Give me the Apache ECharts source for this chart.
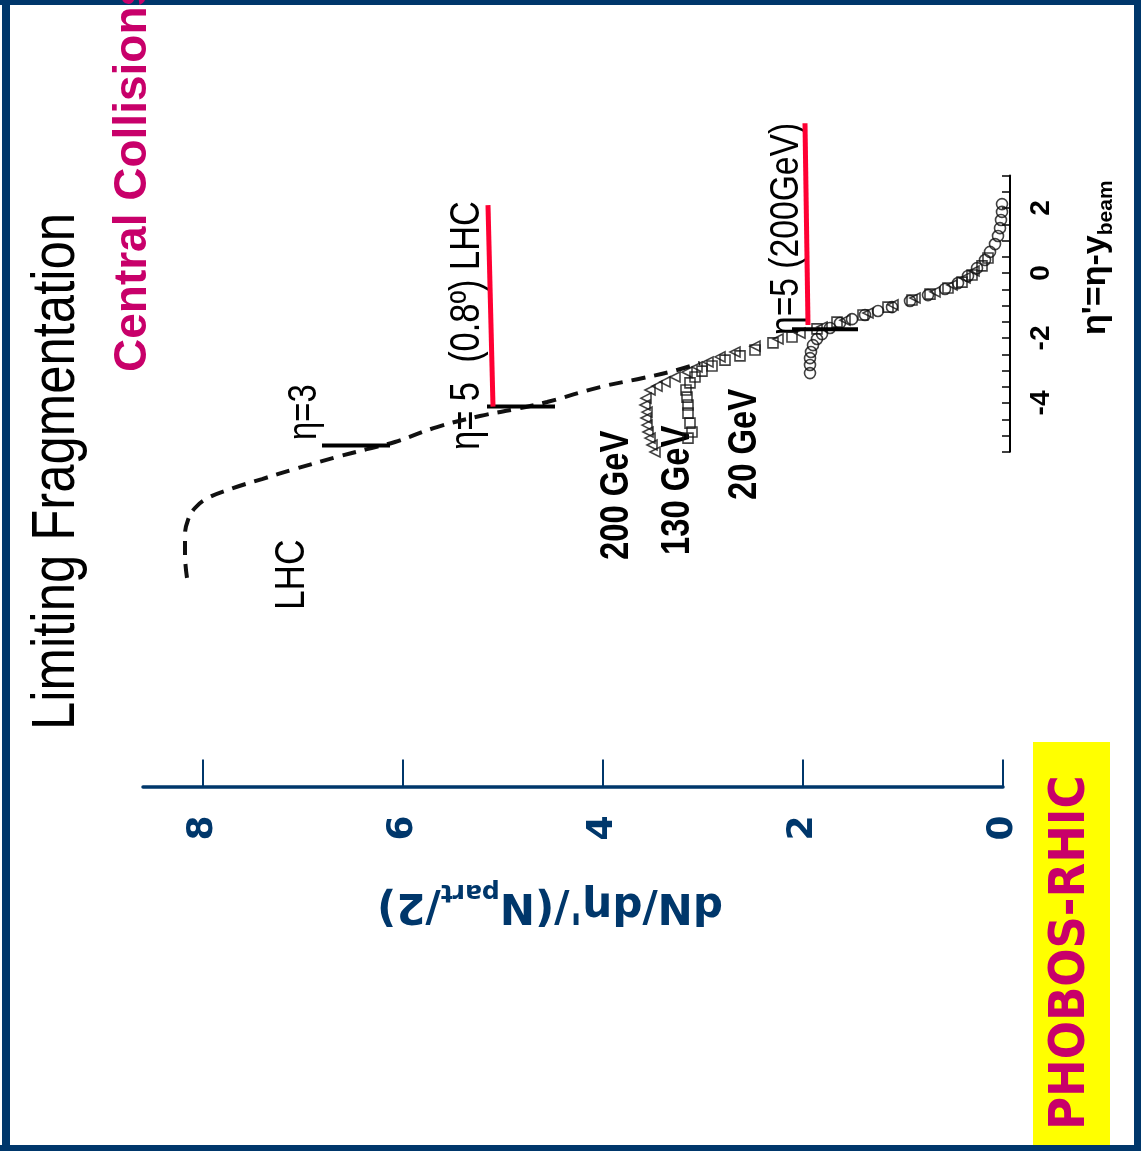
<!DOCTYPE html>
<html>
<head>
<meta charset="utf-8">
<title>Limiting Fragmentation</title>
<script src="https://cdn.jsdelivr.net/npm/echarts@6/dist/echarts.min.js"></script>
<style>
html, body { margin: 0; padding: 0; background: #fff; }
#chart { width: 1141px; height: 1151px; }
</style>
</head>
<body>
<div id="chart"></div>
<script>
// every point is [dN/deta'/(Npart/2), eta']
var lhcCurve = [
  [8.16, -9.38], [8.18, -8.68], [8.18, -8.06], [8.15, -7.60], [8.08, -7.23],
  [7.95, -6.92], [7.70, -6.62], [7.41, -6.34], [7.08, -6.03], [6.66, -5.66],
  [6.36, -5.42], [6.08, -5.20], [5.66, -4.74], [5.23, -4.40], [4.86, -4.18],
  [4.56, -3.97], [4.03, -3.51], [3.60, -3.23], [3.30, -3.02], [3.03, -2.77]
];
var phobos200 = [
  [3.48, -5.51], [3.51, -5.29], [3.53, -5.08], [3.55, -4.89], [3.56, -4.68],
  [3.57, -4.46], [3.56, -4.28], [3.58, -4.06], [3.57, -3.85], [3.53, -3.60],
  [3.46, -3.48], [3.38, -3.35], [3.28, -3.20], [3.16, -3.05], [3.06, -2.89],
  [2.95, -2.74], [2.83, -2.58], [2.68, -2.43], [2.48, -2.25], [2.25, -2.03],
  [2.03, -1.85], [1.81, -1.66], [1.58, -1.45], [1.35, -1.23], [1.10, -0.98],
  [0.88, -0.77], [0.68, -0.58], [0.51, -0.37], [0.38, -0.15], [0.29, 0.06]
];
var phobos130 = [
  [3.15, -5.08], [3.11, -4.89], [3.13, -4.62], [3.15, -4.31], [3.15, -4.06],
  [3.16, -3.82], [3.17, -3.60], [3.13, -3.38], [3.08, -3.20], [3.01, -3.02],
  [2.91, -2.86], [2.78, -2.68], [2.63, -2.55], [2.48, -2.37], [2.30, -2.15],
  [2.11, -1.97], [1.86, -1.72], [1.66, -1.51], [1.40, -1.29], [1.15, -1.05],
  [0.91, -0.83], [0.73, -0.65], [0.55, -0.46], [0.41, -0.28], [0.31, -0.06],
  [0.21, 0.22], [0.15, 0.46]
];
var phobos20 = [
  [1.93, -3.08], [1.93, -2.83], [1.93, -2.62], [1.92, -2.43], [1.90, -2.22],
  [1.86, -2.03], [1.81, -1.88], [1.73, -1.69], [1.63, -1.54], [1.51, -1.42],
  [1.38, -1.29], [1.25, -1.17], [1.11, -1.05], [0.93, -0.86], [0.75, -0.68],
  [0.58, -0.49], [0.45, -0.31], [0.35, -0.09], [0.26, 0.15], [0.18, 0.40],
  [0.13, 0.65], [0.08, 0.89], [0.05, 1.14], [0.03, 1.38], [0.02, 1.63],
  [0.01, 1.88], [0.01, 2.12]
];
// eta cut markers
var cutLhcEta3 = [[6.81, -5.31], [6.13, -5.31]];
var cutLhcEta5 = [[5.16, -4.11], [4.48, -4.11]];
var redLhcEta5 = [[5.15, 2.09], [5.10, -4.11]];
var cut200Eta5 = [[2.11, -1.73], [1.45, -1.73]];
var red200Eta5 = [[1.98, 4.61], [1.95, -1.60]];

var dnTicks = [0, 2, 4, 6, 8];
var etaLabels = [-4, -2, 0, 2];

var navy = '#00376b';
var magenta = '#c8006a';
var arial = "'Liberation Sans', Arial, sans-serif";
var marker = { color: 'rgba(255,255,255,0)', borderColor: '#111', borderWidth: 1.6 };

// text reading bottom-to-top; squeeze < 1 narrows it like Arial Narrow
function vText(x, y, text, font, fill, squeeze, rich) {
  return {
    type: 'text', x: x, y: y, rotation: Math.PI / 2, scaleX: squeeze || 1, silent: true,
    style: {
      text: text, font: font, fill: fill, rich: rich,
      align: 'left', textAlign: 'left', verticalAlign: 'middle', textVerticalAlign: 'middle'
    }
  };
}
function cutLine(data, color, width) {
  return {
    type: 'line', xAxisIndex: 0, yAxisIndex: 0, data: data, symbol: 'none', silent: true,
    lineStyle: { color: color, width: width }
  };
}

var chart = echarts.init(document.getElementById('chart'));
chart.setOption({
  animation: false,
  backgroundColor: '#fff',
  grid: [
    { left: 143, right: 138, top: 110.5, height: 676 },
    { left: 143, right: 131, top: 175.5, height: 276.25 }
  ],
  xAxis: [
    {
      gridIndex: 0, type: 'value', min: 0, max: 8.6, inverse: true,
      axisLine: { onZero: false, lineStyle: { color: navy, width: 3.5 } },
      axisTick: { inside: true, length: 27, customValues: dnTicks, lineStyle: { color: navy, width: 2 } },
      axisLabel: {
        customValues: dnTicks, rotate: 90, margin: 29, color: navy,
        fontFamily: 'DejaVu Sans', fontWeight: 'bold', fontSize: 36
      },
      splitLine: { show: false }
    },
    { gridIndex: 1, type: 'value', min: 0, max: 1, show: false }
  ],
  yAxis: [
    { gridIndex: 0, type: 'value', min: -15.8, max: 5, show: false },
    {
      gridIndex: 1, type: 'value', position: 'right', min: -5.5, max: 3, interval: 0.5,
      axisLine: { onZero: false, lineStyle: { color: '#000', width: 2 } },
      axisTick: { inside: true, length: 8, lineStyle: { color: '#000', width: 1.5 } },
      axisLabel: {
        customValues: etaLabels, rotate: 90, margin: 17, color: '#000',
        fontFamily: 'Liberation Sans', fontWeight: 'bold', fontSize: 28
      },
      splitLine: { show: false }
    }
  ],
  series: [
    {
      type: 'line', xAxisIndex: 0, yAxisIndex: 0, data: lhcCurve, smooth: 0.4,
      symbol: 'none', silent: true,
      lineStyle: { color: '#111', width: 4, type: [14, 9] }
    },
    {
      type: 'scatter', xAxisIndex: 0, yAxisIndex: 0, data: phobos200, symbol: 'triangle',
      symbolSize: 10, symbolRotate: 90, silent: true, itemStyle: marker
    },
    {
      type: 'scatter', xAxisIndex: 0, yAxisIndex: 0, data: phobos130, symbol: 'rect',
      symbolSize: 10, silent: true, itemStyle: marker
    },
    {
      type: 'scatter', xAxisIndex: 0, yAxisIndex: 0, data: phobos20, symbol: 'circle',
      symbolSize: 11, silent: true, itemStyle: marker
    },
    cutLine(cutLhcEta3, '#000', 4),
    cutLine(cutLhcEta5, '#000', 4),
    cutLine(redLhcEta5, '#ff0033', 5),
    cutLine(cut200Eta5, '#000', 4),
    cutLine(red200Eta5, '#ff0033', 5)
  ],
  graphic: [
    // frame
    { type: 'rect', shape: { x: 2, y: 0, width: 8, height: 1151 }, style: { fill: navy }, silent: true },
    { type: 'rect', shape: { x: 0, y: 0, width: 1141, height: 5 }, style: { fill: navy }, silent: true },
    { type: 'rect', shape: { x: 1134, y: 0, width: 7, height: 1151 }, style: { fill: navy }, silent: true },
    { type: 'rect', shape: { x: 0, y: 1145, width: 1141, height: 6 }, style: { fill: navy }, silent: true },
    // PHOBOS-RHIC badge
    { type: 'rect', shape: { x: 1033, y: 742, width: 77, height: 403 }, style: { fill: '#ffff00' }, silent: true },
    vText(1071, 1130, 'PHOBOS-RHIC', "bold 50px 'DejaVu Sans', sans-serif", magenta, 0.9),
    // titles
    vText(57, 730, 'Limiting Fragmentation', '62px ' + arial, '#000', 0.82),
    vText(133, 372, 'Central Collisions', 'bold 46px ' + arial, magenta),
    // annotations
    vText(292, 610, 'LHC', '43px ' + arial, '#000', 0.82),
    vText(305, 440, 'η=3', '40px ' + arial, '#000', 0.82),
    vText(467, 450, 'η= 5  (0.8º) LHC', '42px ' + arial, '#000', 0.82),
    vText(787, 335, 'η=5 (200GeV)', '41px ' + arial, '#000', 0.82),
    vText(617, 560, '200 GeV', 'bold 41px ' + arial, '#000', 0.8),
    vText(678, 555, '130 GeV', 'bold 41px ' + arial, '#000', 0.8),
    vText(745, 500, '20 GeV', 'bold 41px ' + arial, '#000', 0.8),
    // eta' axis title
    vText(1096, 335, '{m|η\'=η-y}{s|beam}', 'bold 34px ' + arial, '#000', 1, {
      m: { fontSize: 34, fontWeight: 'bold', fontFamily: 'Liberation Sans', lineHeight: 42, fill: '#000' },
      s: { fontSize: 21, fontWeight: 'bold', fontFamily: 'Liberation Sans', verticalAlign: 'bottom', fill: '#000' }
    }),
    // dN axis title, upside down
    {
      type: 'text', x: 550, y: 905, rotation: Math.PI, silent: true,
      style: {
        text: '{m|dN/dη\'/(N}{s|part}{m|/2)}',
        align: 'center', textAlign: 'center', verticalAlign: 'middle', textVerticalAlign: 'middle',
        fill: navy,
        rich: {
          m: { fontSize: 42, fontWeight: 'bold', fontFamily: 'DejaVu Sans', lineHeight: 52, fill: navy },
          s: { fontSize: 25, fontWeight: 'bold', fontFamily: 'DejaVu Sans', verticalAlign: 'bottom', fill: navy }
        }
      }
    }
  ]
});
</script>
</body>
</html>
